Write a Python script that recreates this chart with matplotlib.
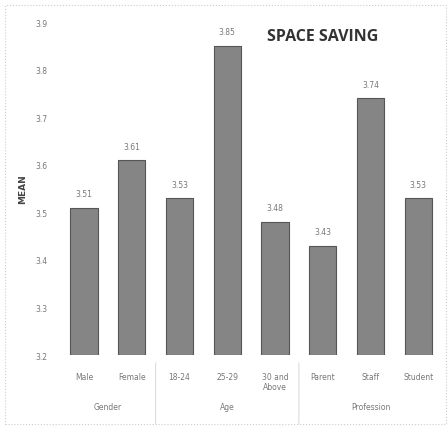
import matplotlib.pyplot as plt
from matplotlib.patches import Rectangle

categories = ["Male", "Female", "18-24", "25-29", "30 and\nAbove", "Parent", "Staff", "Student"]
means = [3.51, 3.61, 3.53, 3.85, 3.48, 3.43, 3.74, 3.53]
groups = ["Gender", "Age", "Profession"]
group_sizes = [2, 3, 3]
yticks = [3.2, 3.3, 3.4, 3.5, 3.6, 3.7, 3.8, 3.9]

fig = plt.figure(figsize=(4.48, 4.27), dpi=100)
ax = fig.add_axes([0.134, 0.166, 0.853, 0.780])

x = list(range(len(categories)))
ax.bar(x, [m - yticks[0] for m in means], bottom=yticks[0], width=0.57,
       color="#858585", edgecolor="#555555", linewidth=0.8)

for xi, m in zip(x, means):
    ax.text(xi, m + 0.02, f"{m:.2f}", ha="center", va="bottom", fontsize=5.5, color="#777777")

ax.set_xlim(-0.5, len(categories) - 0.5)
ax.set_ylim(yticks[0], yticks[-1])
ax.set_yticks(yticks)
ax.set_yticklabels([f"{t:.1f}" for t in yticks], fontsize=5.5, color="#777777")
ax.set_xticks(x)
ax.set_xticklabels(categories, fontsize=5.5, color="#777777", va="top")
ax.tick_params(length=0, axis="y", pad=9)
ax.tick_params(length=0, axis="x", pad=12)
for s in ax.spines.values():
    s.set_visible(False)

ax.set_ylabel("MEAN", fontsize=6.5, fontweight="bold", color="#444444", labelpad=6)

# group labels and separators under the axis
start = 0
for g, n in zip(groups, group_sizes):
    center = start + (n - 1) / 2
    ax.annotate(g, xy=(center, 0), xycoords=("data", "axes fraction"),
                xytext=(0, -37), textcoords="offset points",
                ha="center", va="center", fontsize=5.5, color="#777777")
    if start > 0:
        ax.annotate("", xy=(start - 0.5, -0.015), xycoords=("data", "axes fraction"),
                    xytext=(start - 0.5, -0.215), textcoords=("data", "axes fraction"),
                    arrowprops=dict(arrowstyle="-", color="#dddddd", lw=0.8))
    start += n

fig.text(0.72, 0.913, "SPACE SAVING", ha="center", va="center", fontsize=11.5,
         fontweight="bold", family="Open Sans", color="#333333")

fig.patches.append(Rectangle((0.012, 0.005), 0.983, 0.982, transform=fig.transFigure,
                             fill=False, edgecolor="#cccccc", linewidth=0.8, linestyle=":"))

fig.savefig("out.png", dpi=100)
plt.close()
